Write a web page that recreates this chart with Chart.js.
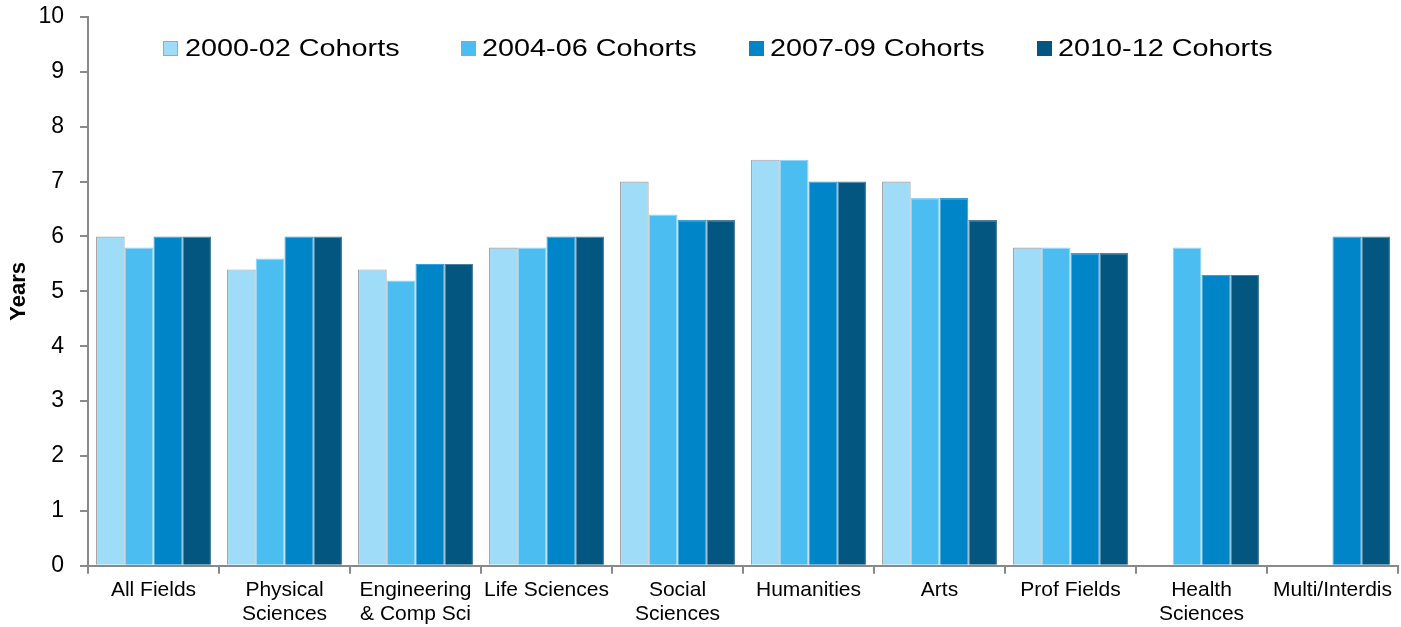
<!DOCTYPE html>
<html><head><meta charset="utf-8">
<script src="https://cdn.jsdelivr.net/npm/chart.js@4"></script>
<style>html,body{margin:0;padding:0;background:#fff}#wrap{width:1401px;height:627px}</style>
</head><body><div id="wrap"><canvas id="c" width="1401" height="627"></canvas></div>
<script>
const categories = [["All Fields"],["Physical","Sciences"],["Engineering","& Comp Sci"],["Life Sciences"],["Social","Sciences"],["Humanities"],["Arts"],["Prof Fields"],["Health","Sciences"],["Multi/Interdis"]];
const seriesNames = ["2000-02 Cohorts","2004-06 Cohorts","2007-09 Cohorts","2010-12 Cohorts"];
const cohort2000 = [6.0,5.4,5.4,5.8,7.0,7.4,7.0,5.8,null,null];
const cohort2004 = [5.8,5.6,5.2,5.8,6.4,7.4,6.7,5.8,5.8,null];
const cohort2007 = [6.0,6.0,5.5,6.0,6.3,7.0,6.7,5.7,5.3,6.0];
const cohort2010 = [6.0,6.0,5.5,6.0,6.3,7.0,6.3,5.7,5.3,6.0];
const colors = ["#9FDCF7","#4BBDF0","#0085C8","#03567F"];
const borders = ["#A6A6A6","#8FD3F5","#3AA0D8","#4A7FA0"];
const FONT = '"Liberation Sans", Arial, sans-serif';

const legendPlugin = {
  id:'inLegend',
  afterDraw(chart){
    const ctx = chart.ctx;
    const xs = [163,461,749,1037];
    ctx.save();
    ctx.font = '24px ' + FONT;
    ctx.textBaseline = 'middle';
    chart.data.datasets.forEach((ds,i)=>{
      const x = xs[i], y = 48.5;
      ctx.fillStyle = ds.backgroundColor;
      ctx.fillRect(x, y-7.5, 15, 15);
      ctx.strokeStyle = i===0 ? '#A6A6A6' : ds.backgroundColor;
      ctx.lineWidth = 1;
      ctx.strokeRect(x+0.5, y-7, 14, 14);
      ctx.fillStyle = '#000';
      ctx.save();
      ctx.translate(x + (i===0 ? 22 : 21), y+1);
      ctx.scale(1.2, 1);
      ctx.fillText(ds.label, 0, 0);
      ctx.restore();
    });
    ctx.restore();
  }
};

new Chart(document.getElementById('c'), {
  type:'bar',
  data:{
    labels: categories,
    datasets:[cohort2000,cohort2004,cohort2007,cohort2010].map((d,i)=>({
      label: seriesNames[i], data: d, backgroundColor: colors[i],
      borderColor: borders[i], borderWidth: 1.2,
      barPercentage: 1.0, categoryPercentage: 0.88
    }))
  },
  options:{
    responsive:false, animation:false,
    layout:{padding:{top:17,right:3,left:6,bottom:-3}},
    plugins:{legend:{display:false}, tooltip:{enabled:false}},
    scales:{
      x:{
        grid:{offset:true, drawOnChartArea:false, drawTicks:true, tickLength:8, color:'#898989', lineWidth:2},
        border:{color:'#898989', width:2},
        ticks:{color:'#000', font:{family:FONT, size:21, lineHeight:1.15}, maxRotation:0, autoSkip:false, padding:4}
      },
      y:{
        min:0, max:10,
        afterFit(scale){ scale.width = 82; scale.paddingTop = 0; },
        grid:{drawOnChartArea:false, drawTicks:true, tickLength:8, color:'#898989', lineWidth:2},
        border:{color:'#898989', width:2},
        ticks:{stepSize:1, color:'#000', font:{family:FONT, size:23}, padding:16},
        title:{display:true, text:'Years', color:'#000', font:{family:FONT, size:22, weight:'bold'}, padding:{top:0,bottom:4}}
      }
    }
  },
  plugins:[legendPlugin]
});
</script></body></html>
